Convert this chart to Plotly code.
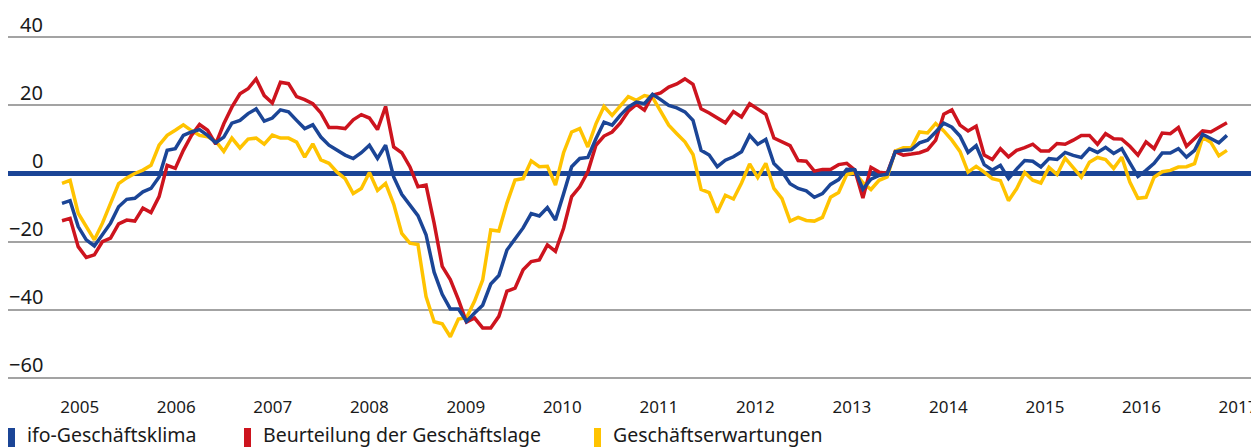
import plotly.graph_objects as go

# Monthly balances, Jan 2005 – Jan 2017 (one row per year)
YEARS = [str(y) for y in range(2005, 2018)]

KLIMA = [  # ifo-Geschäftsklima
    -8.8, -8.0, -15.6, -19.5, -21.3, -18.1, -14.6, -9.8, -7.6, -7.3, -5.4, -4.4,
    -1.0, 6.8, 7.3, 11.2, 12.2, 12.9, 11.2, 9.0, 10.7, 14.8, 15.6, 17.6,
    19.0, 15.4, 16.3, 18.7, 18.1, 15.6, 13.2, 14.3, 10.7, 8.3, 6.8, 5.4,
    4.4, 6.1, 8.3, 4.4, 8.3, -1.0, -6.1, -9.3, -12.4, -18.0, -29.0, -35.5,
    -39.8, -39.8, -43.5, -41.0, -38.7, -32.5, -30.0, -22.5, -19.3, -16.0, -11.8, -12.5,
    -10.0, -13.7, -6.0, 2.0, 4.4, 4.7, 10.2, 15.1, 14.2, 17.1, 19.5, 21.0,
    20.5, 23.3, 21.7, 20.0, 19.3, 18.1, 15.6, 6.8, 5.4, 2.0, 3.9, 4.9,
    6.4, 11.2, 8.6, 10.0, 2.9, 0.6, -3.0, -4.4, -5.1, -7.0, -5.9, -3.2,
    -1.8, 1.2, 1.1, -4.6, -1.7, -0.6, -0.2, 6.4, 6.8, 7.0, 9.0, 9.8,
    12.2, 14.8, 13.6, 11.0, 6.2, 8.2, 2.6, 1.0, 2.4, -1.5, 1.3, 3.8,
    3.6, 1.9, 4.4, 4.1, 6.2, 5.3, 4.7, 7.3, 6.2, 7.7, 5.9, 7.3,
    3.1, -0.9, 0.9, 3.0, 6.0, 6.0, 7.3, 4.8, 6.8, 11.5, 10.3, 9.0,
    11.2,
]

LAGE = [  # Beurteilung der Geschäftslage
    -13.9, -13.2, -21.5, -24.7, -23.9, -20.0, -19.0, -14.8, -13.7, -14.0, -10.2, -11.5,
    -6.8, 2.4, 1.5, 6.8, 11.2, 14.4, 12.7, 8.6, 14.6, 19.5, 23.4, 24.9,
    27.8, 22.9, 20.7, 26.8, 26.4, 22.6, 21.7, 20.5, 17.8, 13.5, 13.5, 13.2,
    15.8, 17.3, 16.3, 12.9, 19.7, 7.8, 6.1, 2.0, -3.9, -3.4, -14.6, -27.3,
    -31.2, -37.1, -43.7, -42.5, -45.4, -45.4, -42.0, -34.6, -33.7, -28.3, -25.9, -25.4,
    -21.0, -22.9, -16.1, -6.8, -3.9, 0.5, 8.3, 11.0, 12.2, 14.8, 18.3, 20.3,
    18.6, 23.0, 23.7, 25.4, 26.3, 27.8, 26.2, 19.0, 17.8, 16.4, 14.9, 18.2,
    16.6, 20.5, 18.9, 17.4, 10.4, 9.3, 8.2, 3.8, 3.6, 0.7, 1.2, 1.2,
    2.6, 3.0, 1.0, -7.2, 1.8, 0.4, 0.1, 6.4, 5.4, 5.7, 6.1, 7.0,
    9.8, 17.4, 18.7, 14.2, 12.5, 13.9, 5.4, 4.1, 7.3, 4.9, 6.8, 7.6,
    8.6, 6.6, 6.6, 8.8, 8.6, 9.8, 11.2, 11.2, 8.6, 11.7, 10.2, 10.1,
    8.0, 5.4, 9.3, 7.3, 11.9, 11.7, 13.5, 8.0, 10.2, 12.5, 12.2, 13.7,
    14.9,
]

ERWARTUNG = [  # Geschäftserwartungen
    -2.9, -2.0, -11.7, -15.6, -19.5, -14.6, -8.5, -3.0, -1.3, 0.0, 1.0, 2.4,
    8.3, 11.2, 12.7, 14.3, 12.6, 11.2, 10.8, 9.5, 6.5, 10.4, 7.5, 10.1,
    10.4, 8.6, 11.3, 10.4, 10.4, 9.2, 4.8, 8.7, 4.0, 3.0, 0.4, -1.5,
    -5.9, -4.4, 0.3, -5.0, -2.9, -9.0, -17.6, -20.5, -20.9, -36.2, -43.6, -44.2,
    -48.0, -42.8, -42.4, -37.5, -31.3, -16.6, -16.9, -8.7, -1.9, -1.5, 3.7, 2.0,
    2.1, -3.4, 6.1, 12.2, 13.2, 7.8, 14.6, 19.7, 17.1, 19.7, 22.6, 21.5,
    22.9, 22.4, 18.3, 14.2, 11.7, 9.3, 5.6, -4.7, -5.6, -11.5, -6.4, -7.5,
    -2.8, 2.8, -1.2, 3.0, -4.4, -7.4, -14.0, -12.9, -13.8, -14.0, -12.9, -7.0,
    -5.6, -0.3, 0.2, -2.7, -4.7, -2.0, -1.0, 6.6, 7.6, 7.6, 12.2, 11.9,
    14.7, 12.5, 9.8, 6.5, 0.4, 2.1, 0.4, -1.5, -2.1, -8.0, -4.5, 0.3,
    -2.0, -2.8, 1.8, -0.3, 4.5, 1.8, -1.1, 3.3, 4.7, 4.1, 1.5, 4.8,
    -2.5, -7.3, -7.0, -1.1, 0.5, 0.9, 1.9, 2.0, 2.9, 10.6, 9.2, 5.2,
    6.8,
]

NAMES = ["ifo-Geschäftsklima", "Beurteilung der Geschäftslage", "Geschäftserwartungen"]
COLORS = ["#1B4596", "#CD141E", "#FFC300"]
Y_TICKS = [40, 20, 0, -20, -40, -60]
Y_TICKTEXT = ["40", "20", "0", "\u221220", "\u221240", "\u221260"]

FONT = "Noto Sans"
TEXT_COLOR = "#1a1a1a"

months = list(range(len(KLIMA)))
# year labels sit evenly along the bottom, slightly after each January
year_pos = [2.2 + 11.93 * k for k in range(len(YEARS))]

fig = go.Figure()
for vals, name, col in [(ERWARTUNG, NAMES[2], COLORS[2]),
                        (LAGE, NAMES[1], COLORS[1]),
                        (KLIMA, NAMES[0], COLORS[0])]:
    fig.add_trace(go.Scatter(x=months, y=vals, mode="lines", name=name,
                             line=dict(color=col, width=3.5), hoverinfo="skip"))

# the page body adds an 8px offset, so the figure is 8px smaller
W, H = 1251, 439
ML, MR, MT, MB = 0, 4, 26, 66
PW = W - ML - MR
PH = H - MT - MB
BOTTOM = MT + PH

fig.update_layout(
    width=W, height=H,
    margin=dict(l=ML, r=MR, t=MT, b=MB, autoexpand=False),
    paper_bgcolor="white", plot_bgcolor="white",
    showlegend=False,
    font=dict(family=FONT, color=TEXT_COLOR),
    xaxis=dict(range=[-6.675, 147.47], showgrid=False, zeroline=False, showline=False,
               tickvals=year_pos, ticktext=YEARS, ticks="",
               tickfont=dict(size=17, family=FONT, color=TEXT_COLOR),
               ticklabelstandoff=14, ticklabeloverflow="allow"),
    yaxis=dict(range=[-61, 41], tickvals=Y_TICKS, showticklabels=False,
               showgrid=True, gridcolor="#A3A3A3", gridwidth=1.5,
               zeroline=True, zerolinecolor=COLORS[0], zerolinewidth=5,
               showline=False, ticks=""),
)

# y tick labels above gridlines, right-aligned
for v, t in zip(Y_TICKS, Y_TICKTEXT):
    fig.add_annotation(x=37 / PW, xref="paper", y=v, yref="y",
                       text=t, showarrow=False, xanchor="right", yanchor="middle",
                       yshift=13, font=dict(size=20, family=FONT, color=TEXT_COLOR))

# legend: coloured bars + labels along the bottom
legend_x = [0, 236, 586]
for px, name, col in zip(legend_x, NAMES, COLORS):
    fig.add_shape(type="rect", xref="paper", yref="paper",
                  x0=px / PW, x1=(px + 7) / PW,
                  y0=-(420 - BOTTOM) / PH, y1=-(444 - BOTTOM) / PH,
                  fillcolor=col, line=dict(width=0), layer="above")
    fig.add_annotation(x=(px + 17) / PW, xref="paper",
                       y=-(426 - BOTTOM) / PH, yref="paper",
                       text=name, showarrow=False, xanchor="left", yanchor="middle",
                       font=dict(size=19.5, family=FONT, color=TEXT_COLOR))

fig.write_html("out.html")
